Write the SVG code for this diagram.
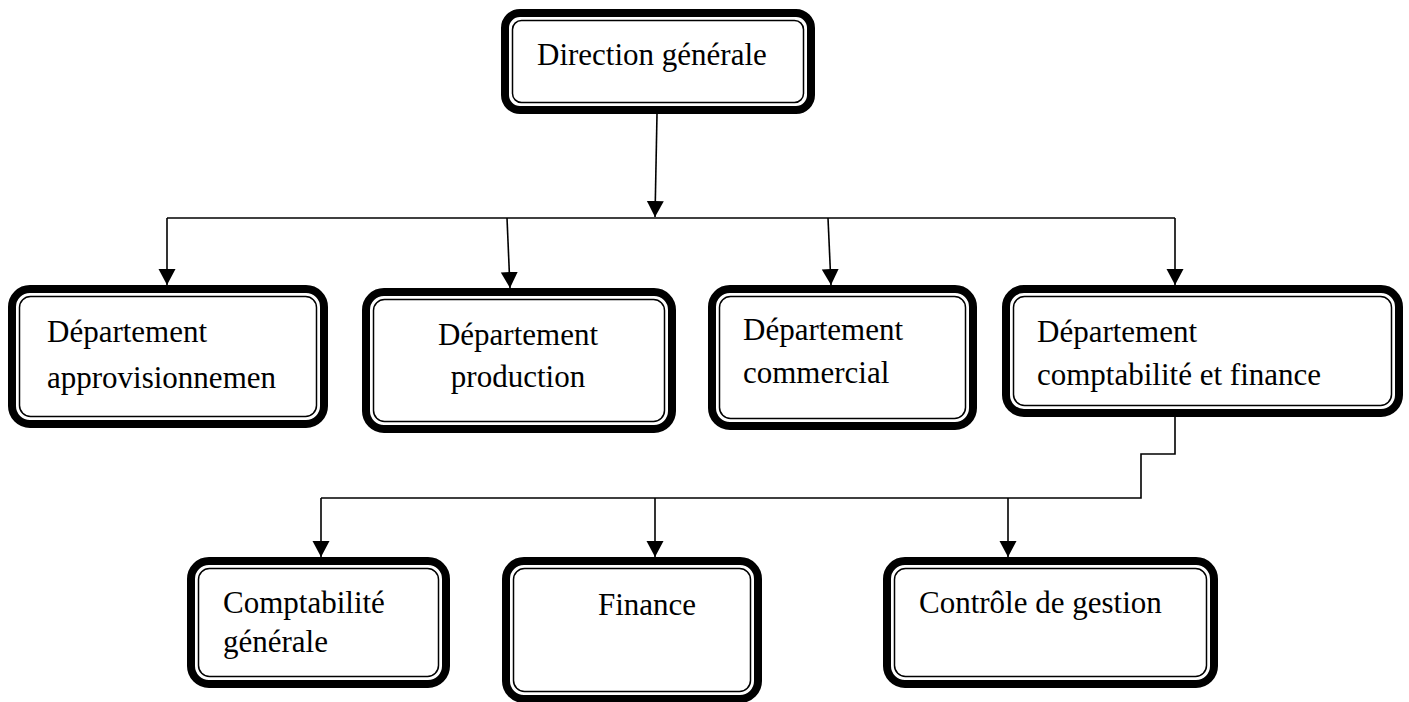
<svg xmlns="http://www.w3.org/2000/svg" width="1409" height="702" viewBox="0 0 1409 702">
  <defs>
    <style>
      .outer { fill: #ffffff; stroke: #000000; stroke-width: 8; }
      .inner { fill: none; stroke: #000000; stroke-width: 1.5; }
      .label { font-family: "Liberation Serif", "Times New Roman", serif; font-size: 31px; fill: #000000; }
      .link { fill: none; stroke: #000000; stroke-width: 1.6; }
    </style>
    <marker id="arrow" markerUnits="userSpaceOnUse" markerWidth="18" markerHeight="18" viewBox="0 0 18 18" refX="16" refY="9" orient="auto">
      <path d="M0,0.5 L16,9 L0,17.5 z" fill="#000000"/>
    </marker>
  </defs>

  <rect width="1409" height="702" fill="#ffffff"/>

  <!-- connectors -->
  <g id="connectors">
    <line class="link" x1="657" y1="114" x2="655" y2="217" marker-end="url(#arrow)"/>
    <line class="link" x1="167" y1="218" x2="1175" y2="218"/>
    <line class="link" x1="167" y1="218" x2="167" y2="285" marker-end="url(#arrow)"/>
    <line class="link" x1="507" y1="218" x2="510" y2="288" marker-end="url(#arrow)"/>
    <line class="link" x1="828" y1="218" x2="831" y2="285" marker-end="url(#arrow)"/>
    <line class="link" x1="1175" y1="218" x2="1175" y2="285" marker-end="url(#arrow)"/>
    <polyline class="link" points="1175,417 1175,454 1141,454 1141,498 321,498"/>
    <line class="link" x1="321" y1="498" x2="321" y2="557" marker-end="url(#arrow)"/>
    <line class="link" x1="655" y1="498" x2="655" y2="557" marker-end="url(#arrow)"/>
    <line class="link" x1="1008" y1="498" x2="1008" y2="557" marker-end="url(#arrow)"/>
  </g>

  <!-- top level -->
  <g id="direction-generale">
    <rect class="outer" x="505" y="13" width="306" height="97" rx="15"/>
    <rect class="inner" x="512.5" y="20.5" width="291" height="82" rx="9"/>
    <text class="label" x="537" y="65">Direction générale</text>
  </g>

  <!-- departments -->
  <g id="dep-approvisionnement">
    <rect class="outer" x="12" y="289" width="312" height="135" rx="18"/>
    <rect class="inner" x="19.5" y="296.5" width="297" height="120" rx="11"/>
    <text class="label" x="47" y="342">Département</text>
    <text class="label" x="47" y="388">approvisionnemen</text>
  </g>

  <g id="dep-production">
    <rect class="outer" x="366" y="292" width="306" height="137" rx="18"/>
    <rect class="inner" x="373.5" y="299.5" width="291" height="122" rx="11"/>
    <text class="label" x="518" y="345" text-anchor="middle">Département</text>
    <text class="label" x="518" y="387" text-anchor="middle">production</text>
  </g>

  <g id="dep-commercial">
    <rect class="outer" x="712" y="289" width="261" height="137" rx="18"/>
    <rect class="inner" x="719.5" y="296.5" width="246" height="122" rx="11"/>
    <text class="label" x="743" y="340">Département</text>
    <text class="label" x="743" y="383">commercial</text>
  </g>

  <g id="dep-comptabilite-finance">
    <rect class="outer" x="1006" y="289" width="393" height="124" rx="18"/>
    <rect class="inner" x="1013.5" y="296.5" width="378" height="109" rx="11"/>
    <text class="label" x="1037" y="342">Département</text>
    <text class="label" x="1037" y="385">comptabilité et finance</text>
  </g>

  <!-- services -->
  <g id="comptabilite-generale">
    <rect class="outer" x="191" y="561" width="255" height="123" rx="18"/>
    <rect class="inner" x="198.5" y="568.5" width="240" height="108" rx="11"/>
    <text class="label" x="223" y="613">Comptabilité</text>
    <text class="label" x="223" y="652">générale</text>
  </g>

  <g id="finance">
    <rect class="outer" x="506" y="561" width="252" height="138" rx="18"/>
    <rect class="inner" x="513.5" y="568.5" width="237" height="123" rx="11"/>
    <text class="label" x="598" y="615">Finance</text>
  </g>

  <g id="controle-gestion">
    <rect class="outer" x="887" y="561" width="327" height="123" rx="18"/>
    <rect class="inner" x="894.5" y="568.5" width="312" height="108" rx="11"/>
    <text class="label" x="919" y="613">Contrôle de gestion</text>
  </g>
</svg>
